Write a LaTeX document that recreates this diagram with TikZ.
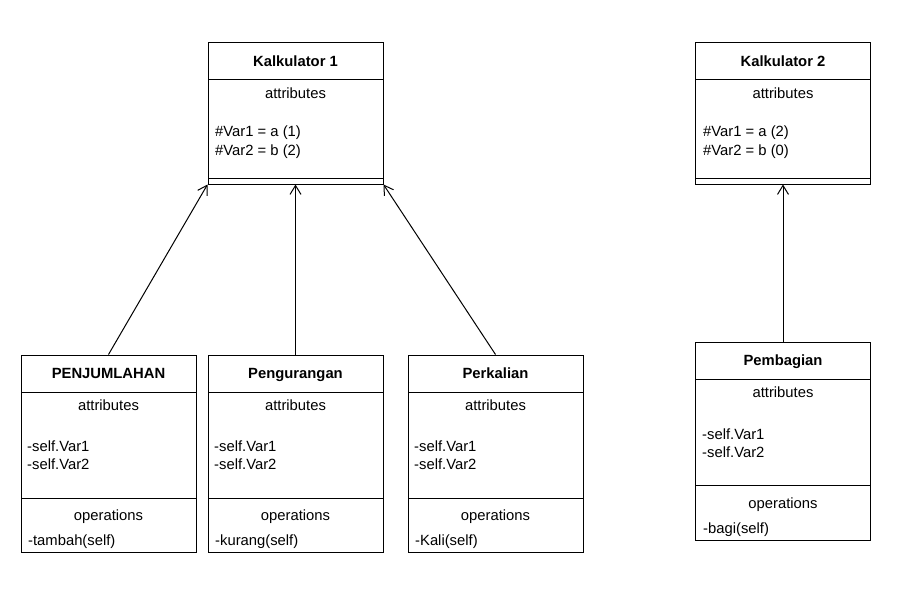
\documentclass[tikz,border=0pt]{standalone}
\usepackage{fontspec}
\setmainfont{Liberation Sans}
\usetikzlibrary{arrows.meta}
\begin{document}
\begin{tikzpicture}[x=1pt,y=-1pt,
  cls/.style={draw,line width=1pt,rectangle,inner sep=0pt,minimum width=175pt},
  txt/.style={inner sep=0pt,text height=10.5pt,text depth=0pt,font=\fontsize{14.8}{17}\selectfont},
  ttl/.style={txt,font=\fontsize{14.8}{17}\selectfont\bfseries},
  dv/.style={line width=1pt},
  inh/.style={line width=1pt,-{Straight Barb[length=9pt,width=11pt]}}]
\useasboundingbox (0,0) rectangle (898,592);
% Kalkulator 1
\node[cls,minimum height=142pt] (k1) at (295.5,113) {};
\draw[dv] (208,79) -- (383,79);
\draw[dv] (208,178) -- (383,178);
\node[ttl] (k1t) at (295.5,61) {Kalkulator 1};
\node[txt] (k1a) at (295.5,93) {attributes};
\node[txt,anchor=west] (k1v1) at (215,131) {\#Var1 = a (1)};
\node[txt,anchor=west] (k1v2) at (215,150) {\#Var2 = b (2)};
% Kalkulator 2
\node[cls,minimum height=142pt] (k2) at (783,113) {};
\draw[dv] (695.5,79) -- (870.5,79);
\draw[dv] (695.5,178) -- (870.5,178);
\node[ttl] (k2t) at (783,61) {Kalkulator 2};
\node[txt] (k2a) at (783,93) {attributes};
\node[txt,anchor=west] (k2v1) at (703,131) {\#Var1 = a (2)};
\node[txt,anchor=west] (k2v2) at (703,150) {\#Var2 = b (0)};
% PENJUMLAHAN
\node[cls,minimum height=197pt] (pj) at (108.5,453.5) {};
\draw[dv] (21,392) -- (196,392);
\draw[dv] (21,498) -- (196,498);
\node[ttl] (pjt) at (108.5,373) {PENJUMLAHAN};
\node[txt] (pja) at (108.5,405) {attributes};
\node[txt,anchor=west] (pjv1) at (27,446) {-self.Var1};
\node[txt,anchor=west] (pjv2) at (27,464) {-self.Var2};
\node[txt] (pjo) at (108.5,515) {operations};
\node[txt,anchor=west] (pjm) at (28,540) {-tambah(self)};
% Pengurangan
\node[cls,minimum height=197pt] (pg) at (295.5,453.5) {};
\draw[dv] (208,392) -- (383,392);
\draw[dv] (208,498) -- (383,498);
\node[ttl] (pgt) at (295.5,373) {Pengurangan};
\node[txt] (pga) at (295.5,405) {attributes};
\node[txt,anchor=west] (pgv1) at (214,446) {-self.Var1};
\node[txt,anchor=west] (pgv2) at (214,464) {-self.Var2};
\node[txt] (pgo) at (295.5,515) {operations};
\node[txt,anchor=west] (pgm) at (215,540) {-kurang(self)};
% Perkalian
\node[cls,minimum height=197pt] (pk) at (495.5,453.5) {};
\draw[dv] (408,392) -- (583,392);
\draw[dv] (408,498) -- (583,498);
\node[ttl] (pkt) at (495.5,373) {Perkalian};
\node[txt] (pka) at (495.5,405) {attributes};
\node[txt,anchor=west] (pkv1) at (414,446) {-self.Var1};
\node[txt,anchor=west] (pkv2) at (414,464) {-self.Var2};
\node[txt] (pko) at (495.5,515) {operations};
\node[txt,anchor=west] (pkm) at (415,540) {-Kali(self)};
% Pembagian
\node[cls,minimum height=198pt] (pb) at (783,441) {};
\draw[dv] (695.5,379) -- (870.5,379);
\draw[dv] (695.5,485) -- (870.5,485);
\node[ttl] (pbt) at (783,360) {Pembagian};
\node[txt] (pba) at (783,392) {attributes};
\node[txt,anchor=west] (pbv1) at (702,434) {-self.Var1};
\node[txt,anchor=west] (pbv2) at (702,452) {-self.Var2};
\node[txt] (pbo) at (783,503) {operations};
\node[txt,anchor=west] (pbm) at (703,528) {-bagi(self)};
% connectors
\draw[inh] (pj.north) -- (k1.south west);
\draw[inh] (pg.north) -- (k1.south);
\draw[inh] (pk.north) -- (k1.south east);
\draw[inh] (pb.north) -- (k2.south);
\end{tikzpicture}
\end{document}
